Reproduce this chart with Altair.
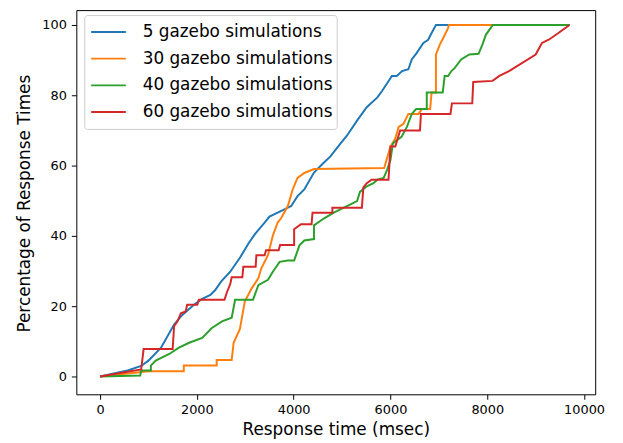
import altair as alt
import pandas as pd

series_names = ["5 gazebo simulations", "30 gazebo simulations",
                "40 gazebo simulations", "60 gazebo simulations"]
series_colors = ["#1f77b4", "#ff7f0e", "#2ca02c", "#d62728"]

# (response time in msec, cumulative percentage)
pts_5 = [(0, 0), (570, 1.7), (850, 3), (1000, 4.5), (1260, 8.2), (1530, 14.8),
         (1700, 17.5), (1940, 20.4), (2100, 22), (2280, 23.2), (2380, 24.6),
         (2500, 27), (2690, 29.8), (2900, 34), (3060, 37.7), (3200, 40.5),
         (3400, 43.8), (3500, 45.5), (3670, 46.6), (3800, 47.5), (3950, 48.5),
         (4080, 51.3), (4220, 53.2), (4420, 58), (4600, 60.5), (4760, 62.6),
         (4970, 66.3), (5100, 68.5), (5310, 72.8), (5510, 76.6), (5730, 79.4),
         (5830, 81.3), (6030, 85.5), (6130, 85.5), (6240, 86.9), (6370, 87.4),
         (6440, 90.2), (6540, 92), (6680, 94.9), (6780, 95.8), (6850, 97.7),
         (6940, 100), (9700, 100)]

pts_30 = [(0, 0), (1000, 1.5), (1730, 1.5), (1730, 3.1), (2410, 3.1), (2410, 4.7),
          (2720, 4.7), (2760, 9.6), (2890, 13.5), (2990, 21.3), (3130, 25),
          (3270, 27.9), (3330, 30.7), (3470, 34.5), (3570, 40.1), (3670, 43.8),
          (3740, 45), (3880, 48.5), (3980, 53.2), (4080, 56.5), (4220, 57.9),
          (4420, 59), (5870, 59.3), (5900, 60.7), (6000, 65.4), (6100, 67.7),
          (6170, 71), (6270, 71.9), (6370, 74.7), (6580, 74.7), (6650, 76.1),
          (6820, 76.1), (6850, 80.8), (6940, 80.8), (6940, 91.6), (7020, 94.4),
          (7090, 96.3), (7190, 99.1), (7210, 100), (9700, 100)]

pts_40 = [(0, 0), (830, 0.3), (850, 1.7), (1050, 1.7), (1050, 3.1), (1150, 4.5),
          (1430, 6.4), (1630, 8.2), (1840, 9.6), (2110, 11), (2310, 13.8),
          (2520, 15.7), (2720, 16.7), (2790, 21.8), (3160, 21.8), (3270, 26),
          (3470, 27.5), (3570, 29.8), (3710, 32.6), (3880, 33), (4010, 33),
          (4120, 37.3), (4220, 38.7), (4420, 39.1), (4420, 43), (4630, 45),
          (4830, 46.6), (5100, 48.5), (5310, 49.9), (5370, 52.5), (5510, 54.1),
          (5650, 55), (5730, 56), (5860, 56.5), (5930, 58.8), (6000, 61.6),
          (6050, 66.3), (6130, 67.2), (6230, 68.2), (6340, 71), (6440, 74.7),
          (6530, 76.1), (6750, 76.1), (6750, 80.8), (7080, 80.8), (7120, 85.5),
          (7190, 85.5), (7260, 86.9), (7330, 87.8), (7460, 90.2), (7630, 91.6),
          (7820, 91.8), (7900, 94.4), (7970, 97.2), (8080, 99.3), (8110, 100),
          (9700, 100)]

pts_60 = [(0, 0), (850, 2), (900, 7.8), (1500, 7.8), (1530, 14.3), (1600, 15.7),
          (1670, 18), (1770, 18.5), (1800, 20.4), (2010, 20.4), (2040, 21.8),
          (2570, 21.8), (2620, 23.9), (2690, 26.3), (2720, 28.2), (2940, 28.2),
          (2960, 31.2), (3215, 31.2), (3230, 34.5), (3400, 34.5), (3430, 35.9),
          (3690, 35.9), (3720, 37.4), (4010, 37.4), (4010, 41.9), (4150, 43.3),
          (4370, 43.3), (4390, 46.6), (4800, 46.6), (4800, 48), (5410, 48),
          (5440, 53.8), (5510, 55), (5610, 56), (5960, 56), (6000, 65.4),
          (6100, 65.4), (6200, 70), (6610, 70), (6630, 74.7), (7240, 74.7),
          (7270, 77.7), (7690, 77.7), (7710, 83.8), (8110, 84.1), (8250, 85.5),
          (8450, 86.9), (9000, 91.6), (9130, 94.9), (9270, 95.8), (9470, 97.7),
          (9700, 100)]

x_ticks = [0, 2000, 4000, 6000, 8000, 10000]
y_ticks = [0, 20, 40, 60, 80, 100]

rows = []
for name, pts in zip(series_names, [pts_5, pts_30, pts_40, pts_60]):
    for i, (t, p) in enumerate(pts):
        rows.append({"series": name, "t": t, "pct": p, "i": i})
df = pd.DataFrame(rows)

FONT = "DejaVu Sans"

chart = alt.Chart(df).mark_line(strokeWidth=2, clip=True).encode(
    x=alt.X("t:Q",
            scale=alt.Scale(domain=[-490, 10230], nice=False, zero=False),
            axis=alt.Axis(values=x_ticks, format="d", title="Response time (msec)",
                          grid=False, domain=False, tickSize=5, labelPadding=4,
                          titleY=41, titleBaseline="alphabetic")),
    y=alt.Y("pct:Q",
            scale=alt.Scale(domain=[-5.07, 104.23], nice=False, zero=False),
            axis=alt.Axis(values=y_ticks, format="d", title="Percentage of Response Times",
                          grid=False, domain=False, tickSize=5, labelPadding=5,
                          titleX=-52, titleY=195, titleAlign="center",
                          titleBaseline="middle")),
    color=alt.Color("series:N",
                    scale=alt.Scale(domain=series_names, range=series_colors),
                    legend=alt.Legend(title=None, orient="none", legendX=8, legendY=5,
                                      symbolType="stroke", symbolSize=1225,
                                      symbolStrokeWidth=2, labelFontSize=17,
                                      labelFont=FONT, labelColor="black",
                                      clipHeight=27, rowPadding=0, padding=3.5,
                                      fillColor="rgba(255,255,255,0.8)",
                                      strokeColor="#cccccc", cornerRadius=3,
                                      labelOffset=16, symbolOffset=2.5,
                                      labelLimit=400)),
    order=alt.Order("i:Q"),
).properties(
    width=524, height=388,
    autosize="none",
    padding={"left": 69, "top": 0, "right": 20, "bottom": 43},
).configure(font=FONT).configure_view(
    stroke="black", strokeWidth=1
).configure_axis(
    labelFont=FONT, labelFontSize=13, labelColor="black",
    titleFont=FONT, titleFontSize=17, titleFontWeight="normal", titleColor="black",
    tickColor="black", tickWidth=1
)

chart.save("out.html", embed_options={"renderer": "svg", "actions": False})
